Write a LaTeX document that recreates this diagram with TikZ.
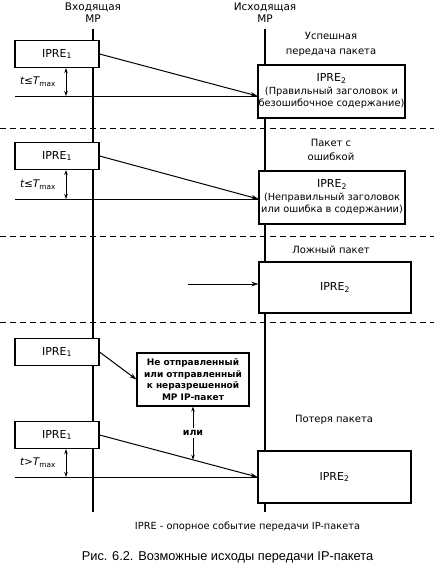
\documentclass[tikz,border=0pt]{standalone}
\usepackage{fontspec}
\setmainfont{DejaVu Sans}
\newfontfamily\capfont{Liberation Sans}
\usetikzlibrary{arrows.meta,calc}
\newcommand{\ipre}[1]{{\fontsize{11}{12}\selectfont IPRE\textsubscript{#1}}}
\begin{document}
\begin{tikzpicture}[x=1pt,y=-1pt,
  every node/.style={font=\fontsize{9.8}{12.5}\selectfont, inner sep=0pt},
  evbox/.style={draw, line width=1.1pt, fill=white, minimum width=84pt, minimum height=27pt},
  resbox/.style={draw, line width=1.1pt, fill=white, align=center},
  msgline/.style={line width=1pt},
  msgarrow/.style={line width=1pt, -{Stealth[length=7pt,width=4.5pt]}},
  dblarrow/.style={line width=0.9pt, {Stealth[length=5pt,width=3.5pt]}-{Stealth[length=5pt,width=3.5pt]}},
  mpline/.style={line width=1.1pt},
  sep/.style={line width=0.9pt, dash pattern=on 6pt off 4pt},
  lbl/.style={align=center},
  tlbl/.style={font=\fontsize{10.5}{12}\selectfont}
]
\useasboundingbox (0,0) rectangle (434,565);
\fill[white] (0,0) rectangle (434,565);

% headers
\node[lbl, font=\fontsize{10.5}{12}\selectfont] (inhead) at (93,13) {Входящая\\MP};
\node[lbl, font=\fontsize{10.5}{12}\selectfont] (outhead) at (265,13) {Исходящая\\MP};
\coordinate (intop) at (93,29);
\coordinate (inbot) at (93,512);
\coordinate (outtop) at (265,29);
\coordinate (outbot) at (265,512);
\draw[mpline] (intop) -- (inbot);
\draw[mpline] (outtop) -- (outbot);

% separators
\coordinate (s1l) at (0,128); \coordinate (s1r) at (434,128);
\coordinate (s2l) at (0,236); \coordinate (s2r) at (434,236);
\coordinate (s3l) at (0,322); \coordinate (s3r) at (434,322);
\draw[sep] (s1l) -- (s1r);
\draw[sep] (s2l) -- (s2r);
\draw[sep] (s3l) -- (s3r);

% ---- section 1
\node[lbl, font=\fontsize{10}{15}\selectfont] (t1) at (331,44) {Успешная\\передача пакета};
\node[evbox] (a1) at (57,54) {\ipre{1}};
\node[resbox, minimum width=147pt, minimum height=53pt] (b1) at (331.5,91.5)
  {\ipre{2}\\(Правильный заголовок и\\безошибочное содержание)};
\coordinate (h1s) at (15,96);
\coordinate (h1e) at (b1.west |- h1s);
\draw[msgline] (h1s) -- (h1e);
\draw[msgarrow] (a1.east) -- (h1e);
\coordinate (d1) at (66,96);
\draw[dblarrow] (a1.south -| d1) -- (d1);
\node[tlbl] (l1) at (38,82) {{\itshape t}≤{\itshape T}\textsubscript{max}};

% ---- section 2
\node[lbl, font=\fontsize{10}{14}\selectfont] (t2) at (331,150) {Пакет с\\ошибкой};
\node[evbox] (a2) at (57,156) {\ipre{1}};
\node[resbox, minimum width=146pt, minimum height=53pt] (b2) at (332,197.5)
  {\ipre{2}\\(Неправильный заголовок\\или ошибка в содержании)};
\coordinate (h2s) at (15,199);
\coordinate (h2e) at (b2.west |- h2s);
\draw[msgline] (h2s) -- (h2e);
\draw[msgarrow] (a2.east) -- (h2e);
\coordinate (d2) at (66,199);
\draw[dblarrow] (a2.south -| d2) -- (d2);
\node[tlbl] (l2) at (38,185) {{\itshape t}≤{\itshape T}\textsubscript{max}};

% ---- section 3
\node[font=\fontsize{10}{12}\selectfont] (t3) at (331,250) {Ложный пакет};
\node[resbox, minimum width=152pt, minimum height=51pt] (b3) at (335,287.5) {\ipre{2}};
\coordinate (f3) at (188,284);
\draw[msgarrow] (f3) -- (f3 -| b3.west);

% ---- section 4
\node[evbox] (a3) at (57,352) {\ipre{1}};
\node[resbox, minimum width=112pt, minimum height=53pt, font=\fontsize{9}{11.5}\selectfont\bfseries] (m) at (193,379.5)
  {Не отправленный\\или отправленный\\к неразрешенной\\MP IP-пакет};
\draw[msgarrow] (a3.east) -- (m.west);

\node[font=\fontsize{10}{12}\selectfont] (t4) at (334,420) {Потеря пакета};
\node[evbox] (a4) at (57,435) {\ipre{1}};
\node[resbox, minimum width=153pt, minimum height=52pt] (b4) at (334.5,477) {\ipre{2}};
\coordinate (h4s) at (15,477);
\coordinate (h4e) at (b4.west |- h4s);
\draw[msgline] (h4s) -- (h4e);
\draw[msgarrow] (a4.east) -- (h4e);
\path (a4.east) -- (h4e) coordinate[pos=0.5875] (ili);
\draw[dblarrow] (m.south) -- (m.south |- ili);
\node[fill=white, inner sep=2pt, font=\fontsize{9.5}{12}\selectfont\bfseries] (or) at (193,433) {или};
\coordinate (d4) at (66,477);
\draw[dblarrow] (a4.south -| d4) -- (d4);
\node[tlbl] (l4) at (38,463) {{\itshape t}>{\itshape T}\textsubscript{max}};

% ---- footnote and caption
\node (fn) at (247.5,527) {IPRE - опорное событие передачи IP-пакета};
\node[font=\capfont\fontsize{12.8}{14}\selectfont] (cap) at (227.5,557) {Рис. 6.2. Возможные исходы передачи IP-пакета};
\end{tikzpicture}
\end{document}
